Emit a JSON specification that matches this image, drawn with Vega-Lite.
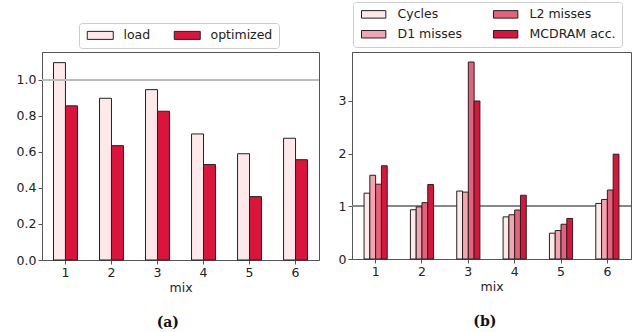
{
  "$schema": "https://vega.github.io/schema/vega-lite/v6.json",
  "padding": {"left": 15, "top": 1, "right": 5, "bottom": 0},
  "spacing": 17,
  "datasets": {
    "left": [
      {"mix": "1", "kind": "load", "value": 1.096},
      {"mix": "1", "kind": "optimized", "value": 0.856},
      {"mix": "2", "kind": "load", "value": 0.898},
      {"mix": "2", "kind": "optimized", "value": 0.635},
      {"mix": "3", "kind": "load", "value": 0.946},
      {"mix": "3", "kind": "optimized", "value": 0.826},
      {"mix": "4", "kind": "load", "value": 0.70},
      {"mix": "4", "kind": "optimized", "value": 0.53},
      {"mix": "5", "kind": "load", "value": 0.59},
      {"mix": "5", "kind": "optimized", "value": 0.352},
      {"mix": "6", "kind": "load", "value": 0.676},
      {"mix": "6", "kind": "optimized", "value": 0.557}
    ],
    "right": [
      {"mix": "1", "metric": "Cycles", "value": 1.25},
      {"mix": "1", "metric": "D1 misses", "value": 1.59},
      {"mix": "1", "metric": "L2 misses", "value": 1.42},
      {"mix": "1", "metric": "MCDRAM acc.", "value": 1.77},
      {"mix": "2", "metric": "Cycles", "value": 0.935},
      {"mix": "2", "metric": "D1 misses", "value": 0.99},
      {"mix": "2", "metric": "L2 misses", "value": 1.07},
      {"mix": "2", "metric": "MCDRAM acc.", "value": 1.415},
      {"mix": "3", "metric": "Cycles", "value": 1.29},
      {"mix": "3", "metric": "D1 misses", "value": 1.27},
      {"mix": "3", "metric": "L2 misses", "value": 3.74},
      {"mix": "3", "metric": "MCDRAM acc.", "value": 3.0},
      {"mix": "4", "metric": "Cycles", "value": 0.80},
      {"mix": "4", "metric": "D1 misses", "value": 0.84},
      {"mix": "4", "metric": "L2 misses", "value": 0.93},
      {"mix": "4", "metric": "MCDRAM acc.", "value": 1.21},
      {"mix": "5", "metric": "Cycles", "value": 0.49},
      {"mix": "5", "metric": "D1 misses", "value": 0.54},
      {"mix": "5", "metric": "L2 misses", "value": 0.66},
      {"mix": "5", "metric": "MCDRAM acc.", "value": 0.77},
      {"mix": "6", "metric": "Cycles", "value": 1.055},
      {"mix": "6", "metric": "D1 misses", "value": 1.13},
      {"mix": "6", "metric": "L2 misses", "value": 1.31},
      {"mix": "6", "metric": "MCDRAM acc.", "value": 1.99}
    ]
  },
  "resolve": {"scale": {"color": "independent", "y": "independent", "x": "independent", "xOffset": "independent"}, "legend": {"color": "independent"}, "axis": {"x": "independent", "y": "independent"}},
  "hconcat": [
    {
      "width": 277,
      "height": 208,
      "data": {"name": "left"},
      "title": {"text": "(a)", "frame": "bounds"},
      "layer": [
        {
          "mark": {"type": "bar", "stroke": "#222", "strokeWidth": 1},
          "encoding": {
            "x": {"field": "mix", "type": "ordinal", "scale": {"paddingInner": 0.48, "paddingOuter": 0.25}, "axis": {"title": "mix", "labelAngle": 0}},
            "xOffset": {"field": "kind", "type": "nominal", "scale": {"domain": ["load", "optimized"], "paddingInner": 0, "paddingOuter": 0}},
            "y": {"field": "value", "type": "quantitative", "scale": {"domain": [0, 1.155], "nice": false}, "axis": {"values": [0, 0.2, 0.4, 0.6, 0.8, 1.0], "format": ".1f", "title": null}},
            "color": {
              "field": "kind", "type": "nominal",
              "scale": {"domain": ["load", "optimized"], "range": ["#fde8ea", "#dc143c"]},
              "legend": {"title": null, "orient": "none", "legendX": 37, "legendY": -29, "direction": "horizontal", "columns": 2, "columnPadding": 21, "labelOffset": 26,
                "symbolType": "M-1,-1H5.5V1H-1Z", "symbolSize": 64, "symbolStrokeColor": "#222222", "symbolStrokeWidth": 1, "symbolOpacity": 1}
            }
          }
        },
        {"mark": {"type": "rule", "color": "#bbbbbb", "strokeWidth": 1}, "encoding": {"y": {"datum": 1}}}
      ]
    },
    {
      "width": 279,
      "height": 207,
      "data": {"name": "right"},
      "title": {"text": "(b)", "frame": "bounds"},
      "layer": [
        {"mark": {"type": "rule", "color": "#888888", "strokeWidth": 1}, "encoding": {"y": {"datum": 1}}},
        {
          "mark": {"type": "bar", "stroke": "#222", "strokeWidth": 1},
          "encoding": {
            "x": {"field": "mix", "type": "ordinal", "scale": {"paddingInner": 0.5, "paddingOuter": 0.26}, "axis": {"title": "mix", "labelAngle": 0}},
            "xOffset": {"field": "metric", "type": "nominal", "scale": {"domain": ["Cycles", "D1 misses", "L2 misses", "MCDRAM acc."], "paddingInner": 0, "paddingOuter": 0}},
            "y": {"field": "value", "type": "quantitative", "scale": {"domain": [0, 3.93], "nice": false}, "axis": {"values": [0, 1, 2, 3], "format": "d", "title": null}},
            "color": {
              "field": "metric", "type": "nominal",
              "scale": {"domain": ["Cycles", "L2 misses", "D1 misses", "MCDRAM acc."], "range": ["#fde8ea", "#e8607a", "#f4a3b1", "#dc143c"]},
              "legend": {"title": null, "orient": "none", "legendX": 1, "legendY": -50, "direction": "horizontal", "columns": 2, "columnPadding": 29, "rowPadding": 7, "labelOffset": 26,
                "symbolType": "M-1,-1H5.5V1H-1Z", "symbolSize": 56, "symbolStrokeColor": "#222222", "symbolStrokeWidth": 1, "symbolOpacity": 1}
            }
          }
        }
      ]
    }
  ],
  "config": {
    "font": "DejaVu Sans",
    "view": {"stroke": "#555555"},
    "axis": {"labelFontSize": 12.5, "titleFontSize": 12.5, "titleFontWeight": "normal", "labelColor": "#222222", "titleColor": "#222222", "domainColor": "#555555", "tickColor": "#555555", "tickSize": 4, "grid": false, "labelPadding": 2, "titlePadding": 3},
    "legend": {"labelFontSize": 12.5, "labelColor": "#222222", "padding": 6, "strokeColor": "#cccccc", "fillColor": "white", "cornerRadius": 3},
    "title": {"orient": "bottom", "font": "DejaVu Serif", "fontSize": 14, "fontWeight": "bold", "color": "#111111", "offset": 22, "anchor": "middle"}
  }
}
